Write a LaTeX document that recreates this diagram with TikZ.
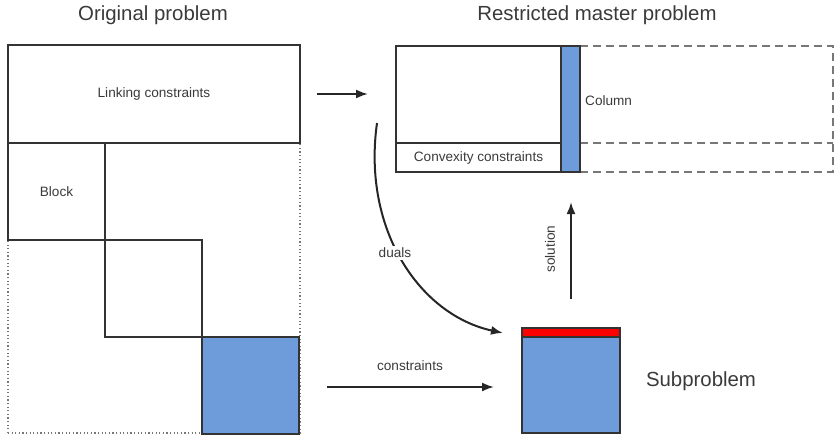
\documentclass[tikz,border=0pt]{standalone}
\usepackage{fontspec}
\setmainfont{Liberation Sans}
\usetikzlibrary{arrows.meta}
\definecolor{lineGray}{HTML}{333333}
\definecolor{textGray}{HTML}{3A3A3A}
\definecolor{dashGray}{HTML}{777777}
\definecolor{blockBlue}{HTML}{6E9CDA}
\definecolor{dualRed}{HTML}{FF0000}
\tikzset{
    box/.style={rectangle, draw=lineGray, line width=1.3pt, inner sep=0pt, outer sep=0pt, anchor=north west, text=textGray, font=\fontsize{13.6}{16}\selectfont},
    lbl/.style={text=textGray, font=\fontsize{13.6}{16}\selectfont},
    title/.style={text=textGray, font=\fontsize{20.4}{24}\selectfont},
    flow/.style={-{Latex[length=12pt,width=9pt]}, line width=2pt, draw=black!85}
}
\begin{document}
\begin{tikzpicture}[x=1pt, y=-1pt]
        \useasboundingbox (0,0) rectangle (835,436);
        \node[title] (origT) at (153,15) {Original problem};
        \node[title] (rmpT) at (597,15) {Restricted master problem};
        % original problem
        \node[box, draw=dashGray, dash pattern=on 1.2pt off 2.4pt, line width=1.3pt, minimum width=292, minimum height=290] (orig) at (8,143) {};
        \node[box, minimum width=292, minimum height=98] (link) at (8,45) {Linking constraints};
        \foreach \i/\shade/\txt in {0/white/Block, 1/white/{}, 2/blockBlue/{}} {
            \node[box, fill=\shade, minimum width=97, minimum height=97] (B\i) at ({8+97*\i},{143+97*\i}) {\txt};
        }
        % restricted master problem
        \node[box, draw=dashGray, line width=1.5pt, dash pattern=on 8pt off 5pt, minimum width=253, minimum height=126] (ext) at (580,46) {};
        \node[box, minimum width=165, minimum height=97] (rmp) at (396,46) {};
        \node[box, minimum width=165, minimum height=29] (conv) at (396,143) {Convexity constraints};
        \draw[draw=dashGray, line width=1.5pt, dash pattern=on 8pt off 5pt] (conv.north -| ext.west) -- (conv.north -| ext.east);
        \node[box, fill=blockBlue, minimum width=19, minimum height=126] (col) at (561,46) {};
        \node[lbl, anchor=west, inner sep=0pt] (colL) at (585,101) {Column};
        % subproblem
        \node[box, fill=blockBlue, minimum width=98, minimum height=96] (sub) at (522,337) {};
        \node[box, fill=dualRed, minimum width=98, minimum height=9, anchor=south west] (subD) at (sub.north west) {};
        \node[title] (subL) at (701,381) {Subproblem};
        % arrows
        \coordinate (linkOut) at (317,94);
        \coordinate (rmpIn) at (368,94);
        \coordinate (consOut) at (327,387);
        \coordinate (consIn) at (494,387);
        \coordinate (solOut) at (571,299);
        \coordinate (solIn) at (571,202);
        \coordinate (dualOut) at (377,123);
        \coordinate (dualIn) at (503,333);
        \draw[flow] (linkOut) -- (rmpIn);
        \draw[flow] (consOut) -- (consIn);
        \draw[flow] (solOut) -- (solIn);
        \draw[flow] (dualOut) .. controls (362,230) and (420,315) .. (dualIn);
        \node[lbl] (consL) at (410,366) {constraints};
        \node[lbl, rotate=90] (solL) at (550,249) {solution};
        \node[lbl, fill=white, inner sep=2pt] (dualL) at (395,253) {duals};
    \end{tikzpicture}
\end{document}
